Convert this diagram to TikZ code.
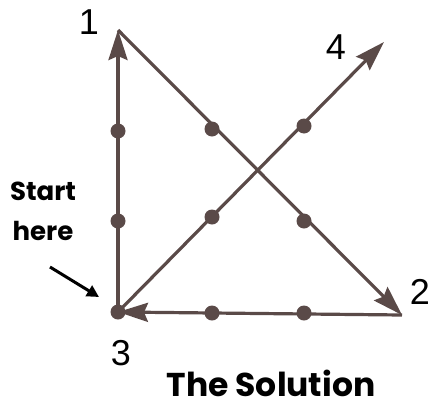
\documentclass[tikz,border=0pt]{standalone}
\usepackage{fontspec}
\setmainfont{Liberation Sans}
\newfontfamily\gothic{Poppins}[UprightFont=* Bold]
\usetikzlibrary{arrows.meta}
\definecolor{ink}{RGB}{90,74,72}
\begin{document}
\begin{tikzpicture}[x=1pt,y=-1pt,
  path/.style={draw=ink,line width=3.2pt,-{Stealth[length=30pt,width=19pt,inset=4pt]}},
  gdot/.style={circle,fill=ink,inner sep=0pt,minimum size=15pt},
  num/.style={font=\fontsize{36}{36}\selectfont,text=black,inner sep=0pt},
  lbl/.style={font=\gothic\fontsize{26}{40}\selectfont,text=black,inner sep=0pt,align=center}]
\useasboundingbox (0,0) rectangle (441,407);
\coordinate (p1) at (118,30);
\coordinate (p2) at (402,315);
\coordinate (p4) at (384,42);
% grid dots
\node[gdot] (p3) at (118,312) {};
\node[gdot] (da1) at (118,131) {};
\node[gdot] (da2) at (118,221) {};
\node[gdot] (db1) at (212,129) {};
\node[gdot] (dc2) at (304,221) {};
\node[gdot] (db2) at (212,217) {};
\node[gdot] (dc1) at (304,126) {};
\node[gdot] (db3) at (212,313) {};
\node[gdot] (dc3) at (304,313) {};
% paths
\draw[path] (p3.center) -- (p1);
\draw[path] (p1) -- (p2);
\draw[path] (p2) -- (p3.center);
\draw[path] (p3.center) -- (p4);
% numbers
\node[num] (n1) at (89,22) {1};
\node[num] (n2) at (420,292) {2};
\node[num] (n3) at (121,353) {3};
\node[num] (n4) at (336,47) {4};
% start here
\node[lbl] (start) at (43,211) {Start\\here};
\coordinate (sa) at (50,267);
\coordinate (sb) at (99,297);
\draw[line width=3pt,-{Triangle[length=12pt,width=12pt]}] (sa) -- (sb);
\node[lbl,font=\gothic\fontsize{33}{35}\selectfont] (title) at (271,383) {The Solution};
\end{tikzpicture}
\end{document}
